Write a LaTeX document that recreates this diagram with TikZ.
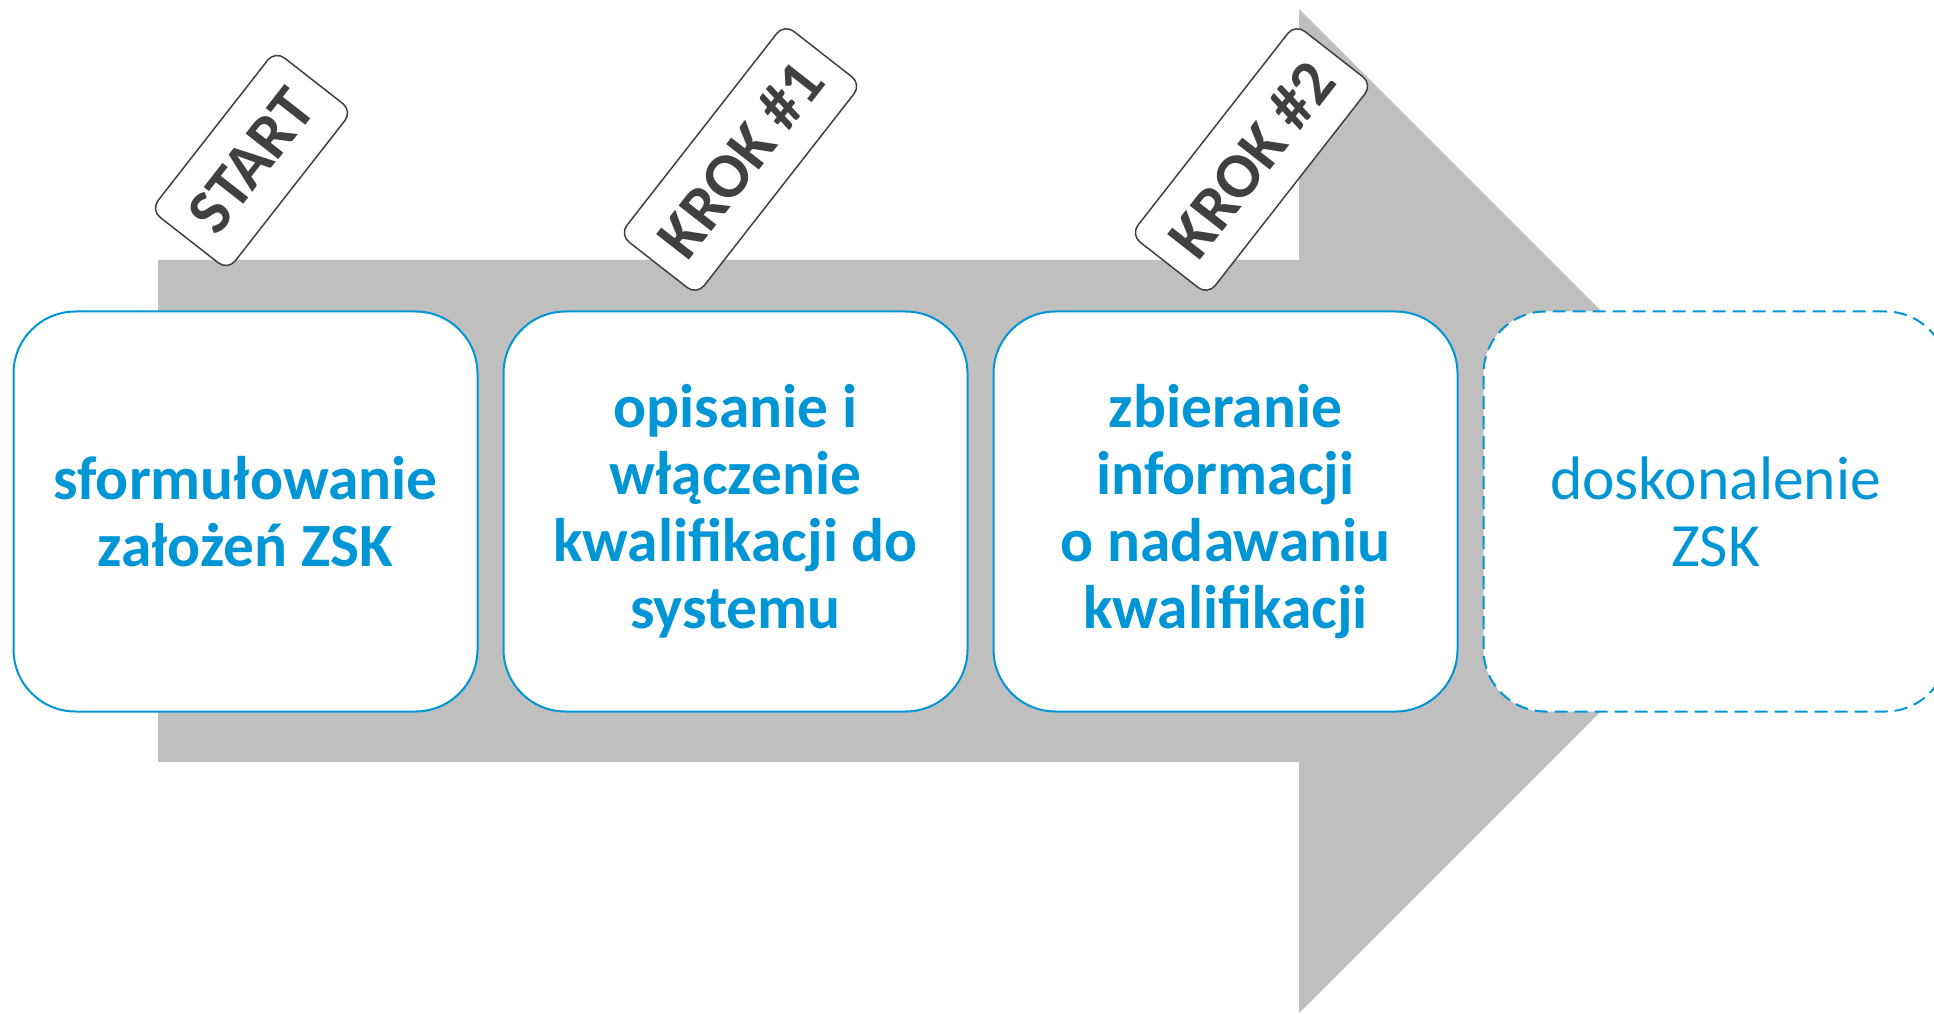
\documentclass[tikz,border=0pt]{standalone}
\usepackage{fontspec}
\setmainfont{Carlito}
\usetikzlibrary{positioning}
\definecolor{stageBlue}{RGB}{0,150,214}
\definecolor{arrowGrey}{RGB}{191,191,191}
\definecolor{tagGrey}{RGB}{64,64,64}

\begin{document}
\begin{tikzpicture}[
  x=1pt,y=1pt,
  stage/.style={draw=stageBlue,line width=2pt,fill=white,rounded corners=62pt,
    minimum width=464pt,minimum height=400pt,text=stageBlue,
    font=\fontsize{61.5}{67}\selectfont\bfseries},
  nextStage/.style={stage,dash pattern=on 13pt off 7pt,
    font=\fontsize{61.5}{67}\selectfont},
  tag/.style={draw=tagGrey,line width=1.5pt,fill=white,rounded corners=12pt,
    minimum height=98pt,inner xsep=20pt,text=tagGrey,rotate=52,
    font=\fontsize{64}{66}\selectfont\bfseries},
  every node/.style={align=center}]

  \useasboundingbox (0,0) rectangle (1934,1013);
  \clip (0,0) rectangle (1934,1013);

  % big grey arrow behind the stages
  \fill[arrowGrey] (158,753) -- (1299,753) -- (1299,1004) -- (1801,502)
    -- (1299,0) -- (1299,251) -- (158,251) -- cycle;

  % stages
  \node[stage] (sFormulate) at (245.5,501.5) {sformułowanie\\założeń ZSK};
  \node[stage,right=24pt of sFormulate] (sDescribe) {opisanie i\\włączenie\\kwalifikacji do\\systemu};
  \node[stage,right=24pt of sDescribe] (sCollect) {zbieranie\\informacji\\o nadawaniu\\kwalifikacji};
  \node[nextStage,right=24pt of sCollect] (sImprove) {doskonalenie\\ZSK};

  % tags on top of the stages
  \node[tag] (tStart) at ([shift={(6,150)}]sFormulate.north) {START};
  \node[tag] (tStep1) at ([shift={(5,151)}]sDescribe.north) {KROK \#1};
  \node[tag] (tStep2) at ([shift={(26,151)}]sCollect.north) {KROK \#2};
\end{tikzpicture}
\end{document}
